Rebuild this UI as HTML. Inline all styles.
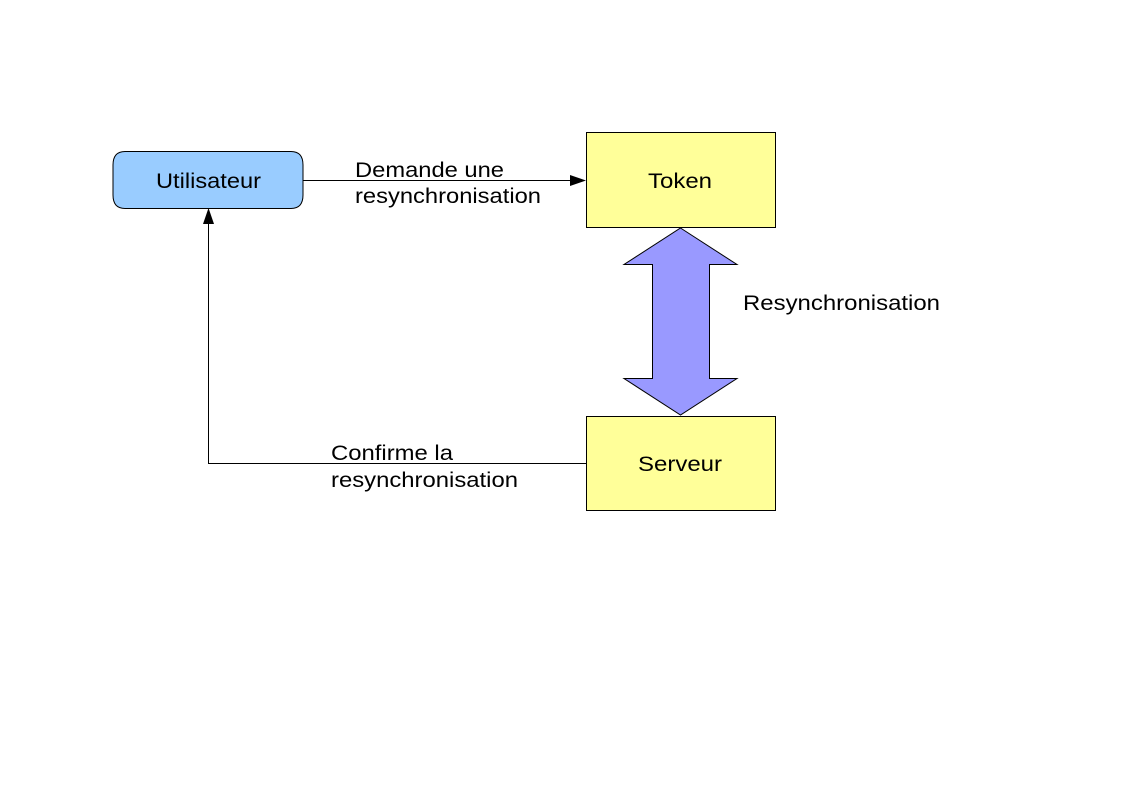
<!DOCTYPE html>
<html><head><meta charset="utf-8"><style>body{margin:0;background:#fff}svg{display:block}text{font-family:"Liberation Sans",Arial,sans-serif;font-size:21px;fill:#000}</style></head>
<body><svg width="1123" height="794" viewBox="0 0 1123 794">
<path d="M125 151.5H291Q303 151.5 303 165V195Q303 208.5 291 208.5H125Q113 208.5 113 195V165Q113 151.5 125 151.5Z" fill="#99ccff" stroke="#000" stroke-width="1"/>
<text x="156" y="188" textLength="105" lengthAdjust="spacingAndGlyphs">Utilisateur</text>
<rect x="586.5" y="132.5" width="189" height="95" fill="#ffff99" stroke="#000"/>
<text x="648" y="188" textLength="64" lengthAdjust="spacingAndGlyphs">Token</text>
<rect x="586.5" y="416.5" width="189" height="94" fill="#ffff99" stroke="#000"/>
<text x="638" y="471" textLength="84" lengthAdjust="spacingAndGlyphs">Serveur</text>
<path d="M680.5 228L737 264.5H709.5V378.5H737L680.5 415L624 378.5H652.5V264.5H624Z" fill="#9999ff" stroke="#000" stroke-width="1"/>
<line x1="303" y1="180.5" x2="572" y2="180.5" stroke="#000"/>
<path d="M586 180.5L570 175V186Z" fill="#000"/>
<path d="M586 463.5H208.5V222" fill="none" stroke="#000"/>
<path d="M208.5 208L203 224H214Z" fill="#000"/>
<text x="355" y="177" textLength="149" lengthAdjust="spacingAndGlyphs">Demande une</text>
<text x="355" y="203" textLength="186" lengthAdjust="spacingAndGlyphs">resynchronisation</text>
<text x="331" y="460" textLength="122" lengthAdjust="spacingAndGlyphs">Confirme la</text>
<text x="331" y="487" textLength="187" lengthAdjust="spacingAndGlyphs">resynchronisation</text>
<text x="743" y="310" textLength="197" lengthAdjust="spacingAndGlyphs">Resynchronisation</text>
</svg></body></html>
